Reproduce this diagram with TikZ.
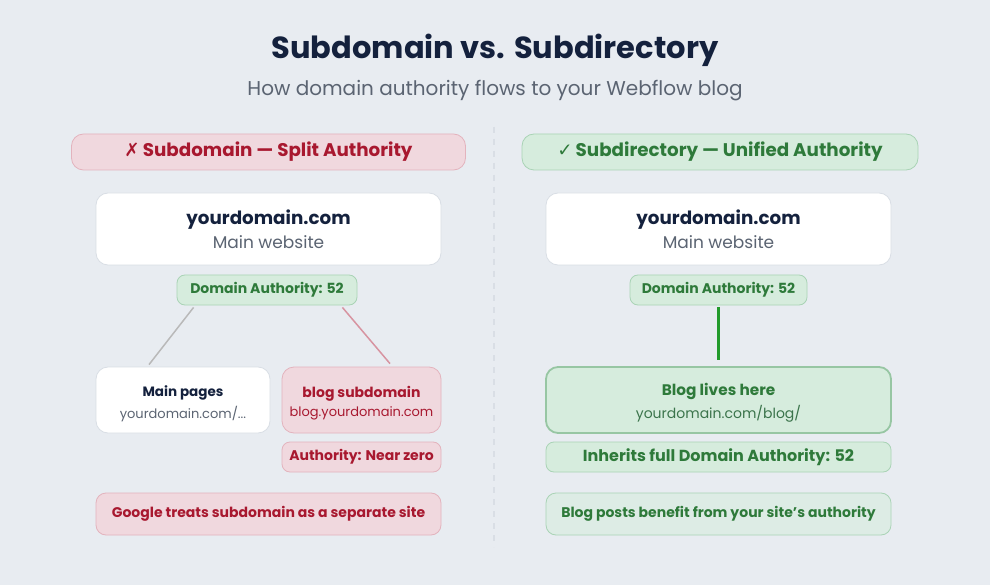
\documentclass[tikz,border=0pt]{standalone}
\usepackage{fontspec}
\setmainfont{Poppins}
\newfontfamily\symfont{DejaVu Sans}
\definecolor{bgcol}{HTML}{E8ECF1}
\definecolor{navy}{HTML}{14213D}
\definecolor{subgray}{HTML}{5B6472}
\definecolor{redtxt}{HTML}{A8182F}
\definecolor{greentxt}{HTML}{2E7A3A}
\definecolor{pinkfill}{HTML}{F0D8DE}
\definecolor{pinkline}{HTML}{E3B3BD}
\definecolor{greenfill}{HTML}{D6ECDD}
\definecolor{greenline}{HTML}{A9D3B5}
\definecolor{boxline}{HTML}{D9DEE5}
\newcommand{\topgap}{\rule{0pt}{18pt}}
\begin{document}
\begin{tikzpicture}
	[x=1pt,y=-1pt,
	card/.style={rectangle,rounded corners=12pt,draw=boxline,fill=white,line width=0.8pt,inner sep=0pt,align=center},
	redcard/.style={card,draw=pinkline,fill=pinkfill,text=redtxt},
	greencard/.style={card,draw=greenline,fill=greenfill,text=greentxt},
	badge/.style={greencard,rounded corners=8pt,font=\bfseries\fontsize{14}{16}\selectfont},
	header/.style={card,rounded corners=10pt,minimum width=394pt,minimum height=36pt,font=\bfseries\fontsize{18.3}{22}\selectfont},]
	% background and titles
	\fill[bgcol] (0,0) rectangle (990,585);
	\node[text=navy,font=\bfseries\fontsize{30.5}{36}\selectfont,name=title] at (495,50) {Subdomain vs. Subdirectory};
	\node[text=subgray,font=\fontsize{20}{24}\selectfont,name=subtitle] at (495,91) {How domain authority flows to your Webflow blog};
	\draw[boxline,line width=1.5pt,dash pattern=on 6pt off 6pt] (494,127) -- (494,547);
	% left side
	\node[header,redcard,name=hl] at (268.5,152) {{\symfont ✗}\,Subdomain — Split Authority};
	\node[card,minimum width=345pt,minimum height=72pt,name=ml] at (268.5,229)
	{{\bfseries\fontsize{18.3}{22}\selectfont\color{navy}yourdomain.com}\\[5pt]{\fontsize{17}{20}\selectfont\color{subgray}Main website}};
	\node[badge,minimum width=180pt,minimum height=30pt,name=dal] at (267,290) {Domain Authority: 52};
	\node[card,minimum width=174pt,minimum height=66pt,name=mp] at (183,400)
	{\topgap{\bfseries\fontsize{13.5}{18}\selectfont\color{navy}Main pages}\\[4.5pt]{\fontsize{13}{16}\selectfont\color{subgray}yourdomain.com/...}};
	\node[redcard,minimum width=159pt,minimum height=66pt,name=bs] at (361.5,400)
	{\topgap{\bfseries\fontsize{14}{18}\selectfont blog subdomain}\\[4.5pt]{\fontsize{13}{16}\selectfont blog.yourdomain.com}};
	\node[redcard,rounded corners=8pt,minimum width=159pt,minimum height=30pt,font=\bfseries\fontsize{14}{16}\selectfont,name=nz] at (361.5,457) {Authority: Near zero};
	\node[redcard,rounded corners=10pt,minimum width=345pt,minimum height=42pt,font=\bfseries\fontsize{14}{18}\selectfont,name=gl] at (268.5,514) {Google treats subdomain as a separate site};
	\draw[line width=1.5pt,color=gray!55] ([xshift=17pt,yshift=-2pt]dal.south west) -- ([xshift=-34pt,yshift=2pt]mp.north);
	\draw[line width=1.5pt,color=pinkline!80!redtxt] ([xshift=-15pt,yshift=-2pt]dal.south east) -- ([xshift=28.5pt,yshift=3pt]bs.north);
	% right side
	\node[header,greencard,minimum width=396pt,name=hr] at (720,152) {{\symfont ✓}\,Subdirectory — Unified Authority};
	\node[card,minimum width=345pt,minimum height=72pt,name=mr] at (718.5,229)
	{{\bfseries\fontsize{18.3}{22}\selectfont\color{navy}yourdomain.com}\\[5pt]{\fontsize{17}{20}\selectfont\color{subgray}Main website}};
	\node[badge,minimum width=177pt,minimum height=30pt,name=dar] at (718.5,290) {Domain Authority: 52};
	\node[greencard,line width=1.8pt,draw=greenline!85!greentxt,minimum width=345pt,minimum height=66pt,name=bl] at (718.5,400)
	{\topgap{\bfseries\fontsize{15.3}{19}\selectfont Blog lives here}\\[4.5pt]{\fontsize{14}{17}\selectfont\color{greentxt!70!subgray}yourdomain.com/blog/}};
	\node[greencard,rounded corners=8pt,minimum width=345pt,minimum height=30pt,font=\bfseries\fontsize{16}{18}\selectfont,name=ih] at (718.5,457) {Inherits full Domain Authority: 52};
	\node[greencard,fill=greenfill!60!bgcol,rounded corners=10pt,minimum width=345pt,minimum height=42pt,font=\bfseries\fontsize{14}{18}\selectfont,name=bp] at (718.5,514) {Blog posts benefit from your site's authority};
	\draw[line width=3pt,color=greentxt!75!green] ([yshift=-2pt]dar.south) -- ([yshift=6pt]bl.north);
\end{tikzpicture}
\end{document}
